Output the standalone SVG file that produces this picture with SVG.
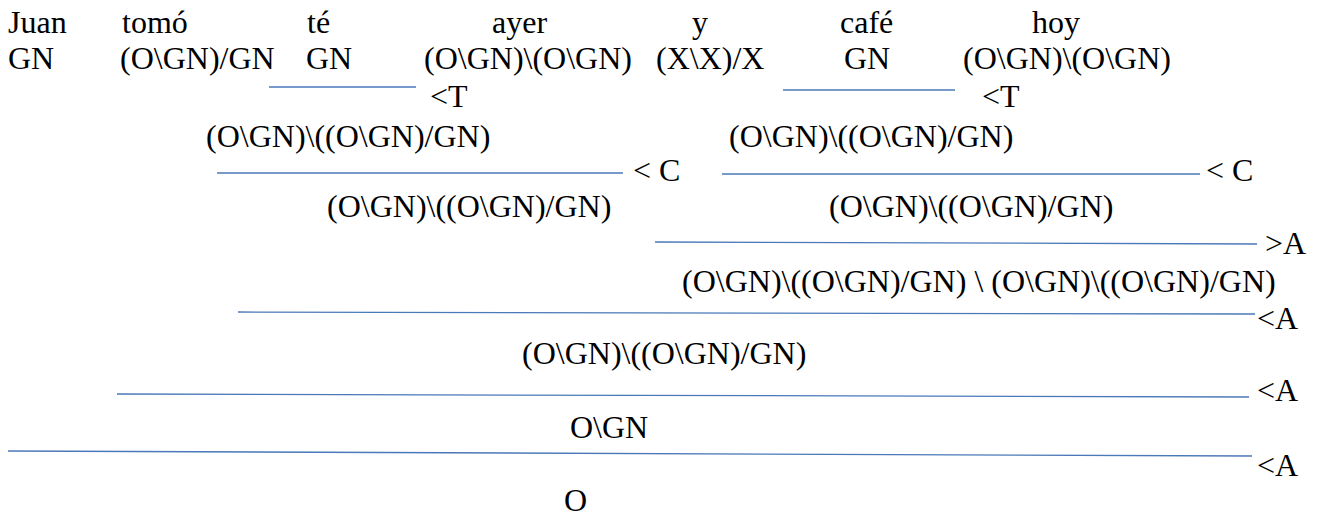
<svg xmlns="http://www.w3.org/2000/svg" width="1320" height="516" viewBox="0 0 1320 516">
<style>
text{font-family:"Liberation Serif","Times New Roman",serif;font-size:32px;fill:#000}
.ln{stroke:#4a78b8;stroke-width:1.3;fill:none}
</style>
<rect width="1320" height="516" fill="#fff"/>
<g id="words">
<text x="8" y="33">Juan</text>
<text x="122" y="33">tomó</text>
<text x="307" y="33">té</text>
<text x="492" y="33">ayer</text>
<text x="692" y="33">y</text>
<text x="840" y="33">café</text>
<text x="1032" y="33">hoy</text>
</g>
<g id="categories">
<text x="8" y="69">GN</text>
<text x="120" y="69">(O\GN)/GN</text>
<text x="306" y="69">GN</text>
<text x="424" y="69">(O\GN)\(O\GN)</text>
<text x="656" y="69">(X\X)/X</text>
<text x="844" y="69">GN</text>
<text x="963" y="69">(O\GN)\(O\GN)</text>
</g>
<g id="connectors">
<line class="ln" x1="269" y1="87" x2="416" y2="87"/>
<line class="ln" x1="783" y1="90" x2="955" y2="90"/>
<line class="ln" x1="217" y1="173" x2="623" y2="173"/>
<line class="ln" x1="722" y1="174" x2="1200" y2="174"/>
<line class="ln" x1="655" y1="242" x2="1257" y2="244"/>
<line class="ln" x1="238" y1="312" x2="1255" y2="314"/>
<line class="ln" x1="117" y1="394" x2="1249" y2="397"/>
<line class="ln" x1="8" y1="451" x2="1252" y2="456"/>
</g>
<g id="rule-T1"><text x="430" y="107">&lt;T</text></g>
<g id="rule-T2"><text x="982" y="107">&lt;T</text></g>
<g id="node-l1"><text x="206" y="147">(O\GN)\((O\GN)/GN)</text></g>
<g id="node-r1"><text x="729" y="147">(O\GN)\((O\GN)/GN)</text></g>
<g id="rule-C1"><text x="633" y="181">&lt; C</text></g>
<g id="rule-C2"><text x="1206" y="181">&lt; C</text></g>
<g id="node-l2"><text x="327" y="217">(O\GN)\((O\GN)/GN)</text></g>
<g id="node-r2"><text x="829" y="217">(O\GN)\((O\GN)/GN)</text></g>
<g id="rule-A1"><text x="1265" y="254">&gt;A</text></g>
<g id="node-coord"><text x="682" y="292">(O\GN)\((O\GN)/GN) \ (O\GN)\((O\GN)/GN)</text></g>
<g id="rule-A2"><text x="1257" y="329">&lt;A</text></g>
<g id="node-vp1"><text x="522" y="364">(O\GN)\((O\GN)/GN)</text></g>
<g id="rule-A3"><text x="1257" y="401">&lt;A</text></g>
<g id="node-vp"><text x="570" y="438">O\GN</text></g>
<g id="rule-A4"><text x="1257" y="476">&lt;A</text></g>
<g id="node-s"><text x="564" y="511">O</text></g>
</svg>
